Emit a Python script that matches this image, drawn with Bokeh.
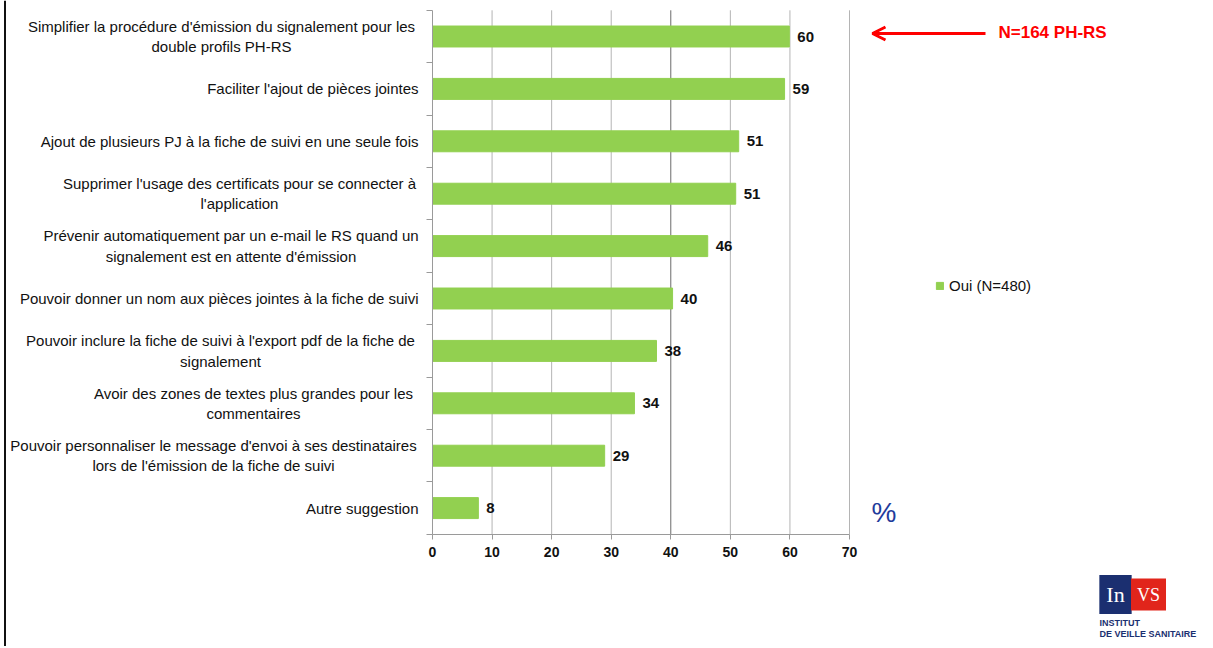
from bokeh.plotting import figure
from bokeh.models import (Range1d, FixedTicker, Label, Arrow, OpenHead, Span,
                          Legend, LegendItem, ColumnDataSource)
from bokeh.core.properties import value
from bokeh.embed import file_html
from bokeh.resources import INLINE

# ---------------- data ----------------
categories = [
    "Simplifier la procédure d'émission du signalement pour les\ndouble profils PH-RS",
    "Faciliter l'ajout de pièces jointes",
    "Ajout de plusieurs PJ à la fiche de suivi en une seule fois",
    "Supprimer l'usage des certificats pour se connecter à\nl'application",
    "Prévenir automatiquement par un e-mail le RS quand un\nsignalement est en attente d'émission",
    "Pouvoir donner un nom aux pièces jointes à la fiche de suivi",
    "Pouvoir inclure la fiche de suivi à l'export pdf de la fiche de\nsignalement",
    "Avoir des zones de textes plus grandes pour les\ncommentaires",
    "Pouvoir personnaliser le message d'envoi à ses destinataires\nlors de l'émission de la fiche de suivi",
    "Autre suggestion",
]
values = [59.9, 59.1, 51.4, 50.9, 46.2, 40.3, 37.6, 33.9, 28.9, 7.7]
value_labels = ["60", "59", "51", "51", "46", "40", "38", "34", "29", "8"]
x_ticks = [0, 10, 20, 30, 40, 50, 60, 70]
series_name = "Oui (N=480)"
note_text = "N=164 PH-RS"
unit_text = "%"

# ---------------- layout ----------------
W, H = 1205, 646
n = len(categories)
XMAX = 70.0
X0_PX, X70_PX = 432.0, 849.0      # where 0 and 70 fall (page px)
YTOP_PX, YBOT_PX = 9.8, 533.8     # top/bottom of the category band
sx = (X70_PX - X0_PX) / XMAX
sy = (YBOT_PX - YTOP_PX) / n

def px_x(px):
    return (px - X0_PX) / sx

def px_y(py):
    return (YBOT_PX - py) / sy

p = figure(width=W, height=H, output_backend="svg", toolbar_location=None,
           x_range=Range1d(px_x(0), px_x(W)), y_range=Range1d(px_y(H), px_y(0)),
           min_border=0, min_border_left=0, min_border_right=0,
           min_border_top=0, min_border_bottom=0)
p.outline_line_color = None
p.background_fill_color = "white"
p.border_fill_color = "white"
p.grid.visible = False

ypos = [n - i - 0.5 for i in range(n)]
src = ColumnDataSource(dict(y=ypos, v=values, lab=value_labels))

# vertical grid lines, limited to the category band
grid_x = x_ticks[1:]
p.segment(x0=grid_x, y0=[0] * len(grid_x), x1=grid_x, y1=[n] * len(grid_x),
          line_color=["#6a6a6a" if t == 40 else "#b4b4b4" for t in grid_x], line_width=1)

bars = p.hbar(y="y", left=0, right="v", height=0.4, source=src,
              fill_color="#92d050", line_color="#92d050")

p.text(x="v", y="y", text="lab", source=src, x_offset=8,
       text_baseline="middle", text_align="left",
       text_font=value("Liberation Sans"), text_font_style="bold",
       text_font_size="15px", text_color="#111111")

# x axis at y = 0
xa = p.xaxis[0]
xa.fixed_location = 0
xa.bounds = (0, XMAX)
xa.ticker = FixedTicker(ticks=x_ticks)
xa.axis_line_color = "#9a9a9a"
xa.major_tick_line_color = "#9a9a9a"
xa.major_tick_out = 5
xa.major_tick_in = 0
xa.minor_tick_line_color = None
xa.major_label_standoff = 8
xa.major_label_text_font = "Liberation Sans"
xa.major_label_text_font_style = "bold"
xa.major_label_text_font_size = "14px"
xa.major_label_text_color = "#111111"

# y axis at x = 0 (tick marks at category boundaries)
ya = p.yaxis[0]
ya.fixed_location = 0
ya.bounds = (0, n)
ya.ticker = FixedTicker(ticks=list(range(n + 1)))
ya.axis_line_color = "#9a9a9a"
ya.major_tick_line_color = "#9a9a9a"
ya.major_tick_out = 6
ya.major_tick_in = 0
ya.minor_tick_line_color = None
ya.major_label_overrides = {i: "" for i in range(n + 1)}

# category labels
label_centers_px = [221, None, None, 239, 230.5, None, 220, 253, 213, None]
for i, cat in enumerate(categories):
    c = label_centers_px[i]
    if c is None:
        x, align = px_x(418), "right"
    else:
        x, align = px_x(c), "center"
    p.add_layout(Label(x=x, y=ypos[i], text=cat, text_align=align,
                       text_baseline="middle", text_font="Liberation Sans",
                       text_font_size="15px", text_color="#111111",
                       text_line_height=1.2))

# legend
legend = Legend(items=[LegendItem(label=series_name, renderers=[bars])],
                location=(935, int(H - 294)), orientation="vertical",
                border_line_color=None, background_fill_alpha=0,
                padding=0, margin=0, glyph_width=9, glyph_height=9,
                label_standoff=5, label_text_font="Liberation Sans",
                label_text_font_size="15px", label_text_color="#111111")
p.add_layout(legend)

# red arrow + note
p.add_layout(Arrow(x_start=px_x(985), y_start=px_y(33), x_end=px_x(872), y_end=px_y(33),
                   line_color="#ff0000", line_width=3,
                   end=OpenHead(size=13, line_color="#ff0000", line_width=3)))
p.add_layout(Label(x=px_x(998), y=px_y(32), text=note_text, text_align="left",
                   text_baseline="middle", text_font="Liberation Sans",
                   text_font_style="bold", text_font_size="17px", text_color="#ff0000"))

# percent sign
p.add_layout(Label(x=px_x(871), y=px_y(512), text=unit_text, text_align="left",
                   text_baseline="middle", text_font="Liberation Sans",
                   text_font_size="28px", text_color="#1f3c9b"))

# page border on the left
p.add_layout(Span(location=px_x(4.5), dimension="height", line_color="#111111", line_width=2))

# logo (InVS)
p.add_layout(Label(x=px_x(1115), y=px_y(594), text="In", text_align="center",
                   text_baseline="middle", text_font="Liberation Serif",
                   text_font_size="22px", text_color="white",
                   background_fill_color="#1b2f70", padding=7))
p.add_layout(Label(x=px_x(1148), y=px_y(594), text="VS", text_align="center",
                   text_baseline="middle", text_font="Liberation Serif",
                   text_font_size="18px", text_color="white",
                   background_fill_color="#e1251b", padding=6))
p.add_layout(Label(x=px_x(1099), y=px_y(622), text="INSTITUT", text_align="left",
                   text_baseline="middle", text_font="Liberation Sans",
                   text_font_style="bold", text_font_size="9px", text_color="#1b2f70"))
p.add_layout(Label(x=px_x(1099), y=px_y(633), text="DE VEILLE SANITAIRE", text_align="left",
                   text_baseline="middle", text_font="Liberation Sans",
                   text_font_style="bold", text_font_size="9px", text_color="#1b2f70"))

open("out.html", "w").write(file_html(p, INLINE))
